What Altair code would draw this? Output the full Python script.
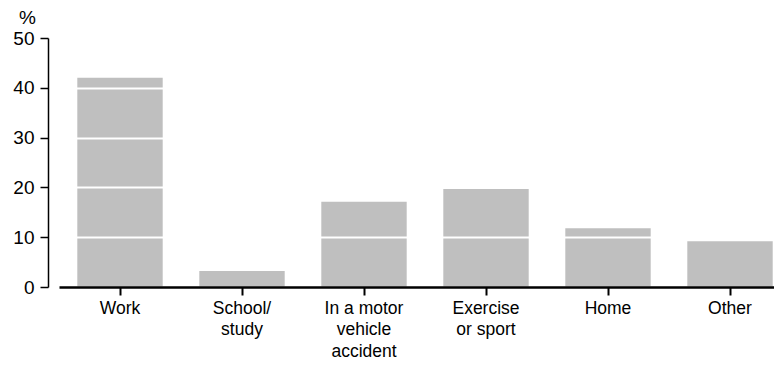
import altair as alt
import pandas as pd

categories = ["Work", "School/\nstudy", "In a motor\nvehicle\naccident", "Exercise\nor sport", "Home", "Other"]
values = [42.0, 3.2, 17.1, 19.7, 11.8, 9.2]

df = pd.DataFrame({"cat": categories, "pct": values})

FONT = "Liberation Sans"

chart = alt.Chart(df).mark_bar(color="#BFBFBF").encode(
    x=alt.X("cat:N", sort=categories, title=None,
            scale=alt.Scale(paddingInner=0.3, paddingOuter=0.15, range=[0, 732]),
            axis=alt.Axis(labelAngle=0, labelExpr="split(datum.label, '\\n')",
                          labelFont=FONT, labelFontSize=17.5, labelColor="black",
                          labelLineHeight=21.5, labelPadding=4, labelBaseline="top",
                          domainColor="black", domainWidth=2.5,
                          tickColor="black", tickWidth=2, tickSize=8, grid=False,
                          zindex=2)),
    y=alt.Y("pct:Q", title="%",
            scale=alt.Scale(domain=[0, 50], nice=False),
            axis=alt.Axis(values=[0, 10, 20, 30, 40, 50], offset=11,
                          labelFont=FONT, labelFontSize=19, labelColor="black",
                          labelPadding=6,
                          domainColor="black", domainWidth=1.5,
                          tickColor="black", tickWidth=1.5, tickSize=8,
                          grid=True, gridColor="white", gridWidth=2, zindex=1,
                          titleAngle=0, titleFont=FONT, titleFontSize=19,
                          titleFontWeight="normal", titleColor="black",
                          titleAlign="center", titleBaseline="bottom",
                          titleX=-21, titleY=-11)),
).properties(
    width=715, height=249,
    autosize=alt.AutoSizeParams(type="none"),
    padding={"left": 51, "top": 30, "right": 0, "bottom": 75},
).configure_view(stroke=None)

chart.save("out.html", embed_options={"renderer": "svg", "actions": False})
